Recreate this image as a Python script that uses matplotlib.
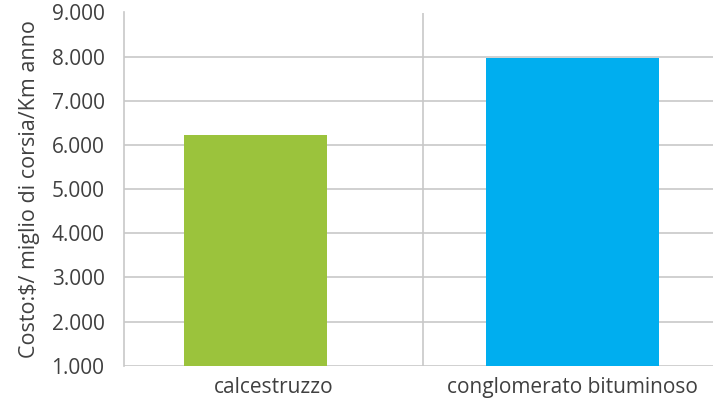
import numpy as np
import matplotlib
matplotlib.use('Agg')
import matplotlib.pyplot as plt

# Data
categories = ['calcestruzzo', 'conglomerato bituminoso']
costs = [6225, 7970]
bar_colors = ['#9BC33C', '#00AEEF']

y_ticks = [1000, 2000, 3000, 4000, 5000, 6000, 7000, 8000, 9000]
y_tick_labels = ['1.000', '2.000', '3.000', '4.000', '5.000',
                 '6.000', '7.000', '8.000', '9.000']

GRID = '#C8C8C8'
TEXT = '#404040'

plt.rcParams['font.family'] = ['Open Sans', 'DejaVu Sans']

fig = plt.figure(figsize=(7.13, 4.01), dpi=100)
ax = fig.add_axes([124 / 713, (401 - 365.7) / 401, 1 - 124 / 713, (365.7 - 12.5) / 401])

x = np.arange(len(categories))
offsets = [-0.06, 0.0]
widths = [0.48, 0.58]
for i in range(len(categories)):
    ax.bar(x[i] + offsets[i], costs[i] - 1000, widths[i], bottom=1000,
           color=bar_colors[i], zorder=3)

ax.set_ylim(1000, 9000)
ax.set_xlim(-0.5, -0.5 + (713 - 124) / 299)
ax.set_yticks(y_ticks)
ax.set_yticklabels(y_tick_labels)
ax.set_xticks(x)
ax.set_xticklabels(categories)

ax.grid(axis='y', color=GRID, linewidth=1.2, zorder=0)
ax.axvline(0.5, color=GRID, linewidth=1.2, zorder=0)

for s in ['top', 'right', 'bottom']:
    ax.spines[s].set_visible(False)
ax.spines['left'].set_color(GRID)
ax.spines['left'].set_linewidth(1.2)

ax.tick_params(axis='both', length=0, labelsize=15, colors=TEXT)
ax.tick_params(axis='y', pad=14)
ax.tick_params(axis='x', pad=8)

ax.set_ylabel('Costo:\\$/ miglio di corsia/Km anno', fontsize=15.5, color=TEXT, labelpad=8)

fig.savefig('out.png', dpi=100)
